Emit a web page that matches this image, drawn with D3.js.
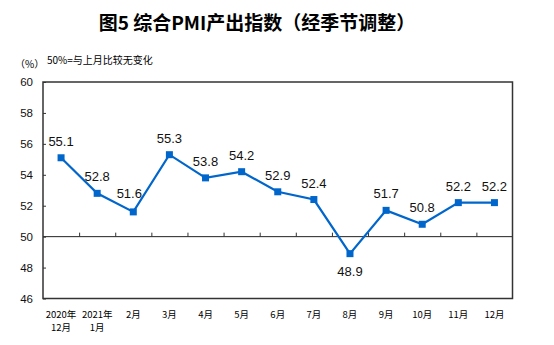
<!DOCTYPE html>
<html><head><meta charset="utf-8">
<script src="https://cdn.jsdelivr.net/npm/d3@7"></script>
<style>body{margin:0;background:#fff}</style>
</head><body>
<script>
const catLine1 = ["2020年","2021年","2月","3月","4月","5月","6月","7月","8月","9月","10月","11月","12月"];
const catLine2 = ["12月","1月","","","","","","","","","","",""];
const values = [55.1,52.8,51.6,55.3,53.8,54.2,52.9,52.4,48.9,51.7,50.8,52.2,52.2];
const yTicks = [46,48,50,52,54,56,58,60];
const labelBelow = [false,false,false,false,false,false,false,false,true,false,false,false,false];

const W=554,H=345;
const svg=d3.select("body").append("svg").attr("width",W).attr("height",H);
const m={l:43,r:512.5,t:82,b:298.5};
const x=d3.scaleBand().domain(d3.range(values.length)).range([m.l,m.r]);
const y=d3.scaleLinear().domain([46,60]).range([m.b,m.t]);
const cjk="'Noto Sans CJK SC', sans-serif";

svg.append("text").attr("x",257).attr("y",30).attr("text-anchor","middle")
  .attr("font-family",cjk).attr("font-weight","bold").attr("font-size",19).attr("fill","#000")
  .text("图5 综合PMI产出指数（经季节调整）");
svg.append("text").attr("x",15).attr("y",68).attr("font-family",cjk).attr("font-size",10).text("（%）");
svg.append("text").attr("x",47).attr("y",64).attr("font-family",cjk).attr("font-size",10).text("50%=与上月比较无变化");

// y axis
const ya=svg.append("g").attr("transform",`translate(${m.l},0)`)
  .call(d3.axisRight(y).tickValues(yTicks).tickSize(3).tickFormat(""));
ya.select(".domain").remove();
ya.selectAll("line").attr("stroke","#333");
svg.append("g").selectAll("text").data(yTicks).join("text")
  .attr("x",33).attr("y",d=>y(d)).attr("dy","0.35em").attr("text-anchor","end")
  .attr("font-family","'Liberation Sans',Arial,sans-serif").attr("font-size",11.5).attr("fill","#111")
  .text(d=>d);

// 50 line with ticks
const y50=y(50);
svg.append("line").attr("x1",m.l).attr("x2",m.r).attr("y1",y50).attr("y2",y50).attr("stroke","#222").attr("stroke-width",1);
const xa=svg.append("g").attr("transform",`translate(0,${y50})`)
  .call(d3.axisTop(d3.scaleLinear().domain([0,values.length]).range([m.l,m.r]))
    .tickValues(d3.range(1,values.length)).tickSize(4).tickFormat(""));
xa.select(".domain").remove();
xa.selectAll("line").attr("stroke","#333");

// frame
svg.append("rect").attr("x",m.l).attr("y",m.t).attr("width",m.r-m.l).attr("height",m.b-m.t)
  .attr("fill","none").attr("stroke","#333").attr("stroke-width",1.5);

// x labels
const cx=i=>x(i)+x.bandwidth()/2;
const xl=svg.append("g").attr("font-family",cjk).attr("font-size",9.5).attr("fill","#000").attr("text-anchor","middle");
xl.selectAll("t1").data(catLine1).join("text").attr("x",(d,i)=>cx(i)).attr("y",318).text(d=>d);
xl.selectAll("t2").data(catLine2).join("text").attr("x",(d,i)=>cx(i)).attr("y",331).text(d=>d);

// line
const col="#0066cc";
svg.append("path").datum(values).attr("fill","none").attr("stroke",col).attr("stroke-width",2.2)
  .attr("d",d3.line().x((d,i)=>cx(i)).y(d=>y(d)));
svg.append("g").selectAll("rect").data(values).join("rect")
  .attr("x",(d,i)=>cx(i)-3.5).attr("y",d=>y(d)-3.5).attr("width",7).attr("height",7).attr("fill",col);
svg.append("g").selectAll("text").data(values).join("text")
  .attr("x",(d,i)=>cx(i)+(i===2?-4:0)).attr("y",(d,i)=>labelBelow[i]?y(d)+22:y(d)-(i===2?14:12))
  .attr("text-anchor","middle").attr("font-family","'Liberation Sans',Arial,sans-serif")
  .attr("font-size",13).attr("fill","#111").text(d=>d.toFixed(1));
</script>
</body></html>
